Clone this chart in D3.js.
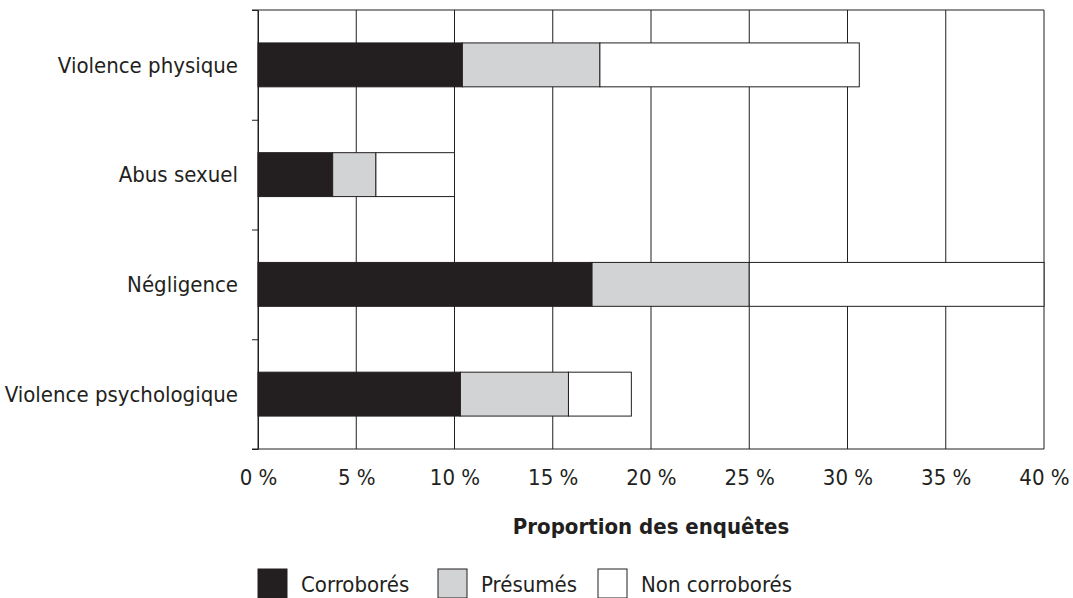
<!DOCTYPE html>
<html>
<head>
<meta charset="utf-8">
<script src="https://cdn.jsdelivr.net/npm/d3@7"></script>
<style>
  body { margin: 0; background: #fff; }
  svg text { font-family: "DejaVu Sans Condensed", "Liberation Sans Narrow", sans-serif; fill: #231f20; }
</style>
</head>
<body>
<div id="chart"></div>
<script>
// Chart data
const categories = ['Violence physique', 'Abus sexuel', 'Négligence', 'Violence psychologique']
const corrobores = [10.4, 3.8, 17.0, 10.3]
const presumes = [7.0, 2.2, 8.0, 5.5]
const nonCorrobores = [13.2, 4.0, 15.0, 3.2]
const seriesNames = ['Corroborés', 'Présumés', 'Non corroborés']
const xTicks = [0, 5, 10, 15, 20, 25, 30, 35, 40]

const colors = ['#231f20', '#d1d3d4', '#ffffff']
const ink = '#231f20'

const width = 1073
const height = 598
const margin = { top: 10, right: 29, bottom: 149, left: 258 }

const svg = d3.select('#chart')
  .append('svg')
  .attr('width', width)
  .attr('height', height)

const table = categories.map((c, i) => ({
  category: c,
  'Corroborés': corrobores[i],
  'Présumés': presumes[i],
  'Non corroborés': nonCorrobores[i]
}))
const stacked = d3.stack().keys(seriesNames)(table)

// Scales
const xScale = d3.scaleLinear()
  .domain([0, 40])
  .range([margin.left, width - margin.right])

const yScale = d3.scaleBand()
  .domain(categories)
  .range([margin.top, height - margin.bottom])

// band boundaries for the left ticks
const yEdges = d3.scaleLinear()
  .domain([0, categories.length])
  .range([margin.top, height - margin.bottom])

// Vertical grid
svg.append('g')
  .selectAll('line')
  .data(xTicks)
  .enter()
  .append('line')
  .attr('x1', d => xScale(d))
  .attr('x2', d => xScale(d))
  .attr('y1', margin.top)
  .attr('y2', height - margin.bottom)
  .attr('stroke', ink)
  .attr('stroke-width', 1)

// Top and bottom borders
svg.append('g')
  .selectAll('line')
  .data([margin.top, height - margin.bottom])
  .enter()
  .append('line')
  .attr('x1', margin.left - 6)
  .attr('x2', xScale(40))
  .attr('y1', d => d)
  .attr('y2', d => d)
  .attr('stroke', ink)
  .attr('stroke-width', 1)

// Left axis with ticks at band edges
const yAxis = d3.axisLeft(yEdges)
  .tickValues(d3.range(categories.length + 1))
  .tickFormat('')
  .tickSize(6)
  .tickSizeOuter(0)

const yAxisG = svg.append('g')
  .attr('transform', `translate(${margin.left}, 0)`)
  .call(yAxis)
yAxisG.selectAll('line, path').attr('stroke', ink)

// Bars
svg.append('g')
  .selectAll('g')
  .data(stacked)
  .enter()
  .append('g')
  .attr('fill', (d, i) => colors[i])
  .selectAll('rect')
  .data(d => d)
  .enter()
  .append('rect')
  .attr('x', d => xScale(d[0]))
  .attr('width', d => xScale(d[1]) - xScale(d[0]))
  .attr('y', d => yScale(d.data.category) + yScale.bandwidth() * 0.3)
  .attr('height', yScale.bandwidth() * 0.4)
  .attr('stroke', ink)
  .attr('stroke-width', 1)

// Category labels
svg.append('g')
  .selectAll('text')
  .data(categories)
  .enter()
  .append('text')
  .attr('x', margin.left - 20)
  .attr('y', d => yScale(d) + yScale.bandwidth() / 2)
  .attr('dy', '0.35em')
  .attr('text-anchor', 'end')
  .style('font-size', '22px')
  .text(d => d)

// X tick labels
const xAxis = d3.axisBottom(xScale)
  .tickValues(xTicks)
  .tickFormat(d => `${d} %`)
  .tickSize(0)
  .tickPadding(20)

const xAxisG = svg.append('g')
  .attr('transform', `translate(0, ${height - margin.bottom})`)
  .call(xAxis)
xAxisG.select('.domain').remove()
xAxisG.selectAll('text')
  .style('font-size', '22px')
  .attr('fill', ink)
  .attr('font-family', null)

// Axis title
svg.append('text')
  .attr('x', xScale(20))
  .attr('y', 534)
  .attr('text-anchor', 'middle')
  .style('font-size', '22px')
  .style('font-weight', 'bold')
  .text('Proportion des enquêtes')

// Legend
const legendX = [258, 438, 598]
const legend = svg.append('g')
  .selectAll('g')
  .data(seriesNames)
  .enter()
  .append('g')
  .attr('transform', (d, i) => `translate(${legendX[i]}, 569)`)

legend.append('rect')
  .attr('width', 29)
  .attr('height', 29)
  .attr('fill', (d, i) => colors[i])
  .attr('stroke', ink)
  .attr('stroke-width', 1)

legend.append('text')
  .attr('x', 43)
  .attr('y', 23)
  .style('font-size', '22px')
  .text(d => d)
</script>
</body>
</html>
